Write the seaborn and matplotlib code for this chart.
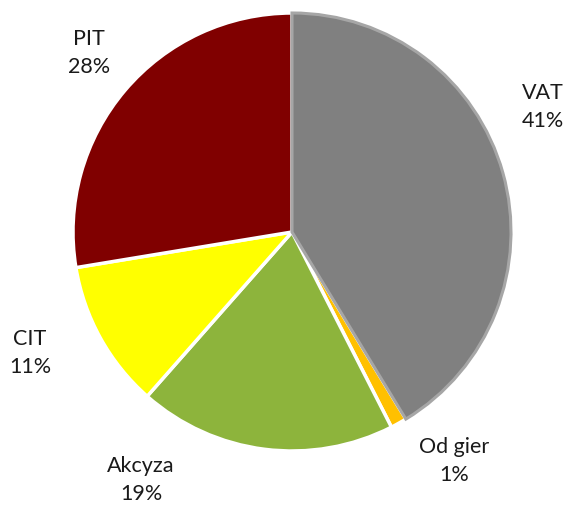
import matplotlib
matplotlib.use('Agg')
import matplotlib.pyplot as plt
import seaborn as sns

sns.set_theme(style='white')
plt.rcParams['font.family'] = ['Lato', 'DejaVu Sans']

# tax revenue shares (%)
categories = ['VAT', 'Od gier', 'Akcyza', 'CIT', 'PIT']
shares = [41.3, 1.2, 19.0, 10.9, 27.6]
colors = ['#808080', '#ffc000', '#8db43c', '#ffff00', '#800000']

# label placement (data coords, pie radius = 1)
label_pos = [(1.146, 0.571), (0.740, -1.046), (-0.689, -1.132),
             (-1.196, -0.553), (-0.927, 0.817)]

fig = plt.figure(figsize=(5.68, 5.05), dpi=100)
ax = fig.add_axes([73 / 568, (273 - 219) / 505, 438 / 568, 438 / 505])

wedges, _ = ax.pie(shares, colors=colors, startangle=90, counterclock=False,
                   wedgeprops=dict(edgecolor='white', linewidth=2.5))

# VAT slice has a lighter grey outline drawn on top
wedges[0].set_edgecolor('#a6a6a6')
wedges[0].set_linewidth(2.2)
wedges[0].set_zorder(3)

for name, val, (x, y) in zip(categories, shares, label_pos):
    ax.text(x, y, f'{name}\n{round(val):.0f}%', ha='center', va='center',
            fontsize=15.5, color='#1a1a1a', linespacing=1.5)

ax.set_xlim(-1, 1)
ax.set_ylim(-1, 1)
ax.set_aspect('equal')
ax.axis('off')

fig.savefig('out.png', dpi=100)
